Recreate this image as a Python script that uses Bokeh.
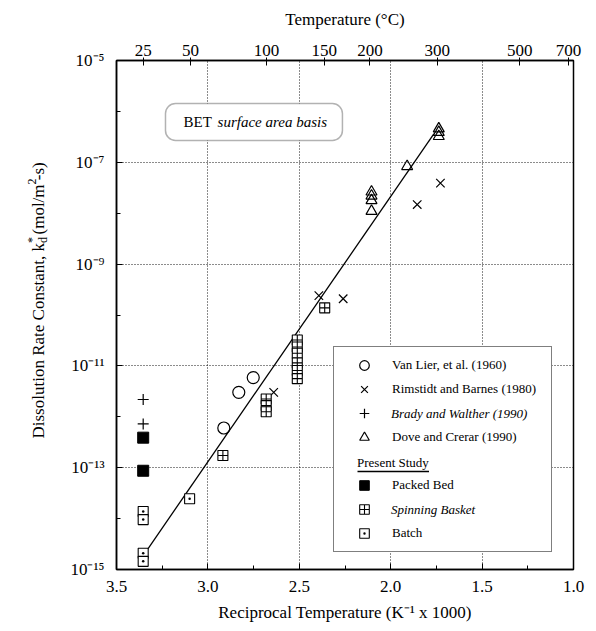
import math
from bokeh.plotting import figure
from bokeh.models import (Range1d, LinearAxis, FixedTicker, CustomJSTickFormatter,
                          Legend, LegendItem, Label, BoxAnnotation)
from bokeh.embed import file_html
from bokeh.resources import INLINE

# ---------------- data (x = 1000/T in K^-1, values as log10 k) ----------------
van_lier_x = [2.913, 2.831, 2.752]
van_lier_logk = [-12.22, -11.52, -11.23]

rimstidt_x = [2.640, 2.393, 2.260, 1.855, 1.728]
rimstidt_logk = [-11.52, -9.62, -9.68, -7.83, -7.41]

brady_x = [3.354, 3.354]
brady_logk = [-11.66, -12.14]

dove_x = [2.105, 2.105, 2.105, 2.105, 1.910, 1.737, 1.737, 1.737]
dove_logk = [-7.58, -7.66, -7.75, -7.96, -7.08, -6.34, -6.41, -6.49]

packed_x = [3.354, 3.354]
packed_logk = [-12.41, -13.06]

spin_x = [2.918, 2.681, 2.681, 2.681, 2.511, 2.511, 2.511, 2.511, 2.511, 2.511, 2.361]
spin_logk = [-12.76, -11.65, -11.78, -11.90, -10.49, -10.63, -10.75, -10.94, -11.09, -11.25, -9.86]

batch_x = [3.354, 3.354, 3.354, 3.354, 3.100]
batch_logk = [-13.86, -14.02, -14.68, -14.84, -13.61]

fit_x = [3.36, 1.764]
fit_logk = [-14.76, -6.44]

x_major = [3.5, 3.0, 2.5, 2.0, 1.5, 1.0]
x_minor = [3.25, 2.75, 2.25, 1.75, 1.25]
y_major = [1e-15, 1e-13, 1e-11, 1e-9, 1e-7, 1e-5]
y_minor = [1e-14, 1e-12, 1e-10, 1e-8, 1e-6]
y_tick_labels = ["10\u207b\u00b9\u2075", "10\u207b\u00b9\u00b3", "10\u207b\u00b9\u00b9",
                 "10\u207b\u2079", "10\u207b\u2077", "10\u207b\u2075"]
temp_ticks_c = [25, 50, 100, 150, 200, 300, 500, 700]

legend_labels = ["Van Lier, et al. (1960)", "Rimstidt and Barnes (1980)",
                 "Brady and Walther (1990)", "Dove and Crerar (1990)",
                 "Present Study", "Packed Bed", "Spinning Basket", "Batch"]

FONT = "Liberation Serif"


def tolin(vals):
    return [10 ** v for v in vals]


p = figure(width=596, height=631, x_range=Range1d(3.5, 1.0), y_range=Range1d(1e-15, 1e-5),
           y_axis_type="log", output_backend="svg", toolbar_location=None,
           min_border_left=116, min_border_right=23, min_border_top=60, min_border_bottom=62)
p.background_fill_color = "white"
p.border_fill_color = "white"
p.outline_line_color = "black"
p.outline_line_width = 1.5

# bottom axis
xa = p.xaxis[0]
xa.ticker = FixedTicker(ticks=x_major, minor_ticks=x_minor)
xa.formatter = CustomJSTickFormatter(code="return tick.toFixed(1);")
xa.axis_label = "Reciprocal Temperature (K\u207b\u00b9 x 1000)"
# left axis
ya = p.yaxis[0]
ya.ticker = FixedTicker(ticks=y_major, minor_ticks=y_minor)
ya.formatter = CustomJSTickFormatter(args=dict(vals=y_major, labs=y_tick_labels), code="""
    for (let i = 0; i < vals.length; i++) {
        if (Math.abs(Math.log10(tick) - Math.log10(vals[i])) < 0.01) return labs[i];
    }
    return "";
""")
# top axis
top = LinearAxis(ticker=FixedTicker(ticks=[1000.0 / (t + 273.15) for t in temp_ticks_c]),
                 formatter=CustomJSTickFormatter(code="return String(Math.round(1000/tick - 273.15));"),
                 axis_label="Temperature (\u00b0C)")
p.add_layout(top, "above")

for ax in [xa, ya, top]:
    ax.axis_line_color = "black"
    ax.axis_line_width = 1.5
    ax.major_tick_line_color = "black"
    ax.minor_tick_line_color = "black"
    ax.major_tick_in = 6
    ax.major_tick_out = 0
    ax.minor_tick_in = 4
    ax.minor_tick_out = 0
    ax.major_label_text_font = FONT
    ax.major_label_text_font_size = "17px"
    ax.major_label_text_color = "black"
    ax.axis_label_text_font = FONT
    ax.axis_label_text_font_size = "17px"
    ax.axis_label_text_font_style = "normal"
    ax.axis_label_text_color = "black"
top.major_tick_in = 5
top.major_tick_out = 3
top.major_label_standoff = 2
top.axis_label_standoff = 13
xa.major_label_standoff = 11
xa.axis_label_standoff = 8
ya.major_label_standoff = 12

for g in [p.xgrid[0], p.ygrid[0]]:
    g.grid_line_color = "black"
    g.grid_line_dash = "1 2"
    g.grid_line_width = 1
    g.grid_line_alpha = 0.9

# fitted line
r_fit = p.line(fit_x, tolin(fit_logk), line_color="black", line_width=1.3)

# data series
r_vl = p.scatter(van_lier_x, tolin(van_lier_logk), marker="circle", size=12,
                 fill_color=None, line_color="black", line_width=1.2)
r_rb = p.scatter(rimstidt_x, tolin(rimstidt_logk), marker="x", size=12,
                 line_color="black", line_width=1.2)
r_bw = p.scatter(brady_x, tolin(brady_logk), marker="cross", size=11,
                 line_color="black", line_width=1.2)
r_dc = p.scatter(dove_x, tolin(dove_logk), marker="triangle", size=11,
                 fill_color=None, line_color="black", line_width=1.2)
r_pb = p.scatter(packed_x, tolin(packed_logk), marker="square", size=11,
                 fill_color="black", line_color="black")
r_sb = p.scatter(spin_x, tolin(spin_logk), marker="square_cross", size=10,
                 fill_color="white", line_color="black", line_width=1.1)
r_bt = p.scatter(batch_x, tolin(batch_logk), marker="square_dot", size=10,
                 fill_color="white", line_color="black", line_width=1.1)
r_blank = p.scatter(x=[], y=[], marker="circle", size=0, fill_alpha=0, line_alpha=0)

items = [LegendItem(label=legend_labels[0], renderers=[r_vl]),
         LegendItem(label=legend_labels[1], renderers=[r_rb]),
         LegendItem(label=" ", renderers=[r_bw]),
         LegendItem(label=legend_labels[3], renderers=[r_dc]),
         LegendItem(label=" ", renderers=[r_blank]),
         LegendItem(label=legend_labels[5], renderers=[r_pb]),
         LegendItem(label=" ", renderers=[r_sb]),
         LegendItem(label=legend_labels[7], renderers=[r_bt])]
legend = Legend(items=items, location=(217, 17), label_text_font=FONT,
                label_text_font_size="13px", label_text_color="black",
                glyph_width=48, glyph_height=24,
                label_height=24, label_width=153, spacing=0, padding=6,
                label_standoff=4, border_line_color="black", border_line_width=1.5,
                background_fill_color="white", background_fill_alpha=1, margin=0)
p.add_layout(legend)


def text_row(label, loc, style="normal"):
    return Legend(items=[LegendItem(label=label, renderers=[r_blank])],
                  location=loc, label_text_font=FONT, label_text_font_size="13px",
                  label_text_font_style=style, label_text_color="black", glyph_width=0,
                  glyph_height=16, label_height=16, label_standoff=0, padding=0, margin=0,
                  border_line_color=None, background_fill_alpha=0)


# italic entries and the "Present Study" sub-heading inside the legend box
p.add_layout(text_row(legend_labels[2], (275, 147), "italic"))
p.add_layout(text_row(legend_labels[6], (275, 51), "italic"))
p.add_layout(text_row(legend_labels[4], (241, 98)))
# underline of the sub-heading (a legend line sample)
uline = Legend(items=[LegendItem(label=" ", renderers=[r_fit])],
               location=(241, 93), label_text_font_size="2px", glyph_width=72,
               glyph_height=10, label_height=10, label_standoff=0,
               padding=0, margin=0, border_line_color=None, background_fill_alpha=0)
p.add_layout(uline)

# "BET surface area basis" box
p.add_layout(BoxAnnotation(left=3.232, right=2.264, top=10 ** -5.845, bottom=10 ** -6.572,
                           fill_color="white", fill_alpha=1, line_color="black",
                           line_width=1.5, border_radius=10))
p.add_layout(Label(x=3.133, y=10 ** -6.208, text="BET", text_font=FONT, text_font_size="15px",
                   text_color="black", text_baseline="middle", text_align="left"))
p.add_layout(Label(x=2.947, y=10 ** -6.208, text="surface area basis", text_font=FONT,
                   text_font_size="15px", text_font_style="italic", text_color="black",
                   text_baseline="middle", text_align="left"))

# y-axis title with super/subscripts, laid out with Times metrics
W = {'D': 722, 'i': 278, 's': 389, 'o': 500, 'l': 278, 'u': 500, 't': 278, 'n': 500, ' ': 250,
     '\u00a0': 250, 'R': 667, 'a': 444, 'e': 444, 'C': 667, ',': 250, 'k': 500, '(': 333,
     'm': 778, '/': 278, '-': 333, ')': 333, '*': 500, 'd': 500, '2': 500}


def tw(s, size):
    return sum(W.get(c, 500) for c in s) * size / 1000.0


BIG, SMALL = 17, 12
part1 = "Dissolution Rate Constant, k"
part2 = "\u00a0\u00a0(mol/m"
part3 = "\u00a0-s)"
main_text = part1 + part2 + part3
base_x_off = -78
start = -123.5
pos_k = start + tw(part1, BIG)
pos_m = pos_k + tw(part2, BIG)
title_pieces = [(main_text, BIG, 0, start),
                ("*", SMALL, -7, pos_k),
                ("d", SMALL, 4, pos_k),
                ("2", SMALL, -7, pos_m)]
for txt, sz, shift, yoff in title_pieces:
    p.add_layout(Label(x=3.5, y=1e-10, x_offset=base_x_off + shift, y_offset=yoff, text=txt,
                       angle=math.pi / 2, text_font=FONT, text_font_size=f"{sz}px",
                       text_color="black", text_align="left", text_baseline="alphabetic"),
                 "left")

open("out.html", "w").write(file_html(p, INLINE))
